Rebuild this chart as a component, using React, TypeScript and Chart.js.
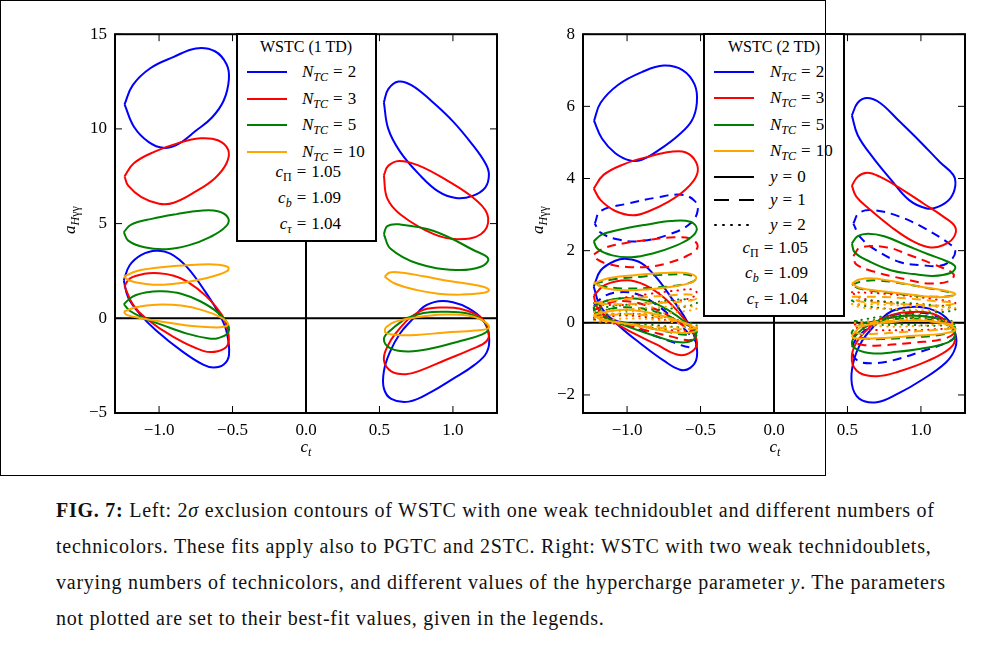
import { useEffect, useRef } from 'react'
import type { CSSProperties, ReactNode } from 'react'
import Chart from 'chart.js/auto'

type Pt = [number, number]

// ---- WSTC (1 TD): contours, c_t < 0
const td1N2NegUp: Pt[] = [[-1.235, 11.3], [-1.18, 12.3], [-1.06, 13.2], [-0.9, 13.8], [-0.75, 14.25], [-0.62, 14.1], [-0.54, 13.4], [-0.525, 12.6], [-0.56, 11.5], [-0.64, 10.6], [-0.75, 9.9], [-0.87, 9.2], [-0.97, 9.0], [-1.07, 9.3], [-1.17, 10.1]]
const td1N3NegUp: Pt[] = [[-1.235, 7.5], [-1.17, 8.2], [-1.03, 8.8], [-0.87, 9.25], [-0.72, 9.5], [-0.6, 9.4], [-0.53, 8.9], [-0.54, 8.2], [-0.62, 7.4], [-0.75, 6.7], [-0.9, 6.1], [-1.0, 6.05], [-1.12, 6.4], [-1.21, 7.0]]
const td1N5NegUp: Pt[] = [[-1.24, 4.55], [-1.19, 4.95], [-1.05, 5.25], [-0.88, 5.5], [-0.72, 5.68], [-0.6, 5.65], [-0.53, 5.3], [-0.545, 4.85], [-0.65, 4.3], [-0.8, 3.85], [-0.95, 3.65], [-1.1, 3.75], [-1.21, 4.1]]
const td1N10NegUp: Pt[] = [[-1.24, 2.2], [-1.15, 2.5], [-0.95, 2.72], [-0.72, 2.84], [-0.6, 2.83], [-0.53, 2.7], [-0.535, 2.5], [-0.62, 2.25], [-0.72, 2.05], [-0.95, 1.78], [-1.1, 1.82], [-1.2, 1.98]]
const td1N2NegLow: Pt[] = [[-1.24, 2.0], [-1.2, 2.8], [-1.12, 3.35], [-1.02, 3.57], [-0.92, 3.4], [-0.81, 2.7], [-0.68, 1.34], [-0.585, 0.14], [-0.54, -0.72], [-0.524, -1.93], [-0.56, -2.44], [-0.63, -2.6], [-0.7, -2.45], [-0.84, -1.76], [-1.02, -0.64], [-1.13, 0.22], [-1.21, 1.1]]
const td1N3NegLow: Pt[] = [[-1.235, 1.7], [-1.2, 2.1], [-1.1, 2.35], [-1.0, 2.38], [-0.9, 2.25], [-0.81, 1.95], [-0.68, 1.17], [-0.57, 0.14], [-0.53, -0.72], [-0.533, -1.41], [-0.6, -1.74], [-0.7, -1.72], [-0.9, -1.0], [-1.09, 0.0], [-1.18, 0.75]]
const td1N5NegLow: Pt[] = [[-1.24, 0.75], [-1.18, 1.15], [-1.08, 1.38], [-0.98, 1.43], [-0.85, 1.3], [-0.72, 0.9], [-0.6, 0.3], [-0.53, -0.35], [-0.535, -0.8], [-0.6, -1.05], [-0.66, -1.07], [-0.81, -0.81], [-0.98, -0.35], [-1.1, 0.0], [-1.2, 0.4]]
const td1N10NegLow: Pt[] = [[-1.24, 0.35], [-1.15, 0.6], [-1.02, 0.72], [-0.85, 0.67], [-0.7, 0.42], [-0.58, 0.05], [-0.53, -0.3], [-0.56, -0.45], [-0.65, -0.47], [-0.81, -0.38], [-1.0, -0.15], [-1.12, 0.0], [-1.22, 0.18]]

// ---- WSTC (1 TD): contours, c_t > 0
const td1N2PosUp: Pt[] = [[0.53, 11.4], [0.56, 12.1], [0.63, 12.5], [0.72, 12.3], [0.85, 11.5], [1.0, 10.4], [1.13, 9.2], [1.22, 8.2], [1.245, 7.6], [1.22, 6.9], [1.13, 6.45], [1.02, 6.35], [0.9, 6.7], [0.77, 7.6], [0.64, 8.8], [0.56, 10.0]]
const td1N3PosUp: Pt[] = [[0.53, 7.55], [0.56, 8.05], [0.633, 8.31], [0.76, 8.09], [0.94, 7.37], [1.17, 6.16], [1.24, 5.3], [1.19, 4.44], [1.03, 4.18], [0.87, 4.44], [0.645, 5.47], [0.553, 6.33]]
const td1N5PosUp: Pt[] = [[0.53, 4.44], [0.553, 4.87], [0.633, 4.96], [0.87, 4.61], [1.146, 3.58], [1.24, 3.15], [1.19, 2.72], [1.02, 2.55], [0.76, 2.89], [0.576, 3.67]]
const td1N10PosUp: Pt[] = [[0.535, 2.2], [0.57, 2.42], [0.66, 2.4], [0.8, 2.22], [0.95, 2.0], [1.1, 1.82], [1.2, 1.68], [1.245, 1.5], [1.2, 1.33], [1.05, 1.25], [0.9, 1.3], [0.75, 1.5], [0.6, 1.85]]
const td1N2PosLow: Pt[] = [[0.73, 0.0], [0.8, 0.6], [0.9, 0.9], [1.0, 0.85], [1.1, 0.55], [1.2, -0.05], [1.245, -0.9], [1.23, -1.8], [1.14, -2.5], [1.0, -3.2], [0.85, -3.9], [0.7, -4.4], [0.58, -4.25], [0.53, -3.7], [0.53, -2.8], [0.57, -1.8], [0.64, -0.8]]
const td1N3PosLow: Pt[] = [[0.7, 0.0], [0.8, 0.45], [0.93, 0.57], [1.05, 0.5], [1.18, 0.1], [1.24, -0.6], [1.23, -1.2], [1.12, -1.65], [0.95, -2.2], [0.78, -2.75], [0.68, -2.95], [0.58, -2.8], [0.53, -2.2], [0.56, -1.4], [0.62, -0.7]]
const td1N5PosLow: Pt[] = [[0.68, 0.0], [0.8, 0.28], [0.94, 0.35], [1.1, 0.25], [1.2, -0.1], [1.24, -0.55], [1.2, -0.85], [1.05, -1.2], [0.85, -1.6], [0.7, -1.75], [0.58, -1.6], [0.53, -1.1], [0.58, -0.6]]
const td1N10PosLow: Pt[] = [[0.54, -0.5], [0.6, -0.2], [0.75, 0.05], [0.94, 0.2], [1.1, 0.15], [1.2, -0.1], [1.245, -0.5], [1.15, -0.65], [0.95, -0.75], [0.75, -0.88], [0.62, -0.88], [0.54, -0.75]]

// ---- WSTC (2 TD), y = 0
const td2Y0N2NegUp: Pt[] = [[-1.225, 5.6], [-1.18, 6.1], [-1.06, 6.6], [-0.9, 6.95], [-0.75, 7.13], [-0.62, 7.0], [-0.54, 6.6], [-0.525, 6.1], [-0.56, 5.6], [-0.65, 5.2], [-0.78, 4.8], [-0.9, 4.52], [-0.98, 4.5], [-1.08, 4.7], [-1.17, 5.1]]
const td2Y0N3NegUp: Pt[] = [[-1.227, 3.72], [-1.16, 4.1], [-1.02, 4.4], [-0.86, 4.6], [-0.7, 4.74], [-0.6, 4.72], [-0.53, 4.45], [-0.525, 4.1], [-0.6, 3.7], [-0.72, 3.35], [-0.86, 3.08], [-0.96, 2.98], [-1.08, 3.1], [-1.18, 3.4]]
const td2Y0N5NegUp: Pt[] = [[-1.227, 2.26], [-1.17, 2.45], [-1.03, 2.6], [-0.87, 2.72], [-0.7, 2.82], [-0.57, 2.8], [-0.525, 2.6], [-0.57, 2.35], [-0.68, 2.12], [-0.82, 1.93], [-0.97, 1.82], [-1.1, 1.87], [-1.2, 2.05]]
const td2Y0N10NegUp: Pt[] = [[-1.227, 1.1], [-1.12, 1.24], [-0.95, 1.32], [-0.75, 1.38], [-0.6, 1.38], [-0.53, 1.27], [-0.56, 1.12], [-0.7, 1.0], [-0.85, 0.93], [-1.0, 0.9], [-1.15, 0.96]]
const td2Y0N2NegLow: Pt[] = [[-1.227, 1.0], [-1.18, 1.45], [-1.08, 1.72], [-1.0, 1.77], [-0.9, 1.65], [-0.8, 1.25], [-0.7, 0.7], [-0.6, 0.1], [-0.54, -0.4], [-0.525, -0.95], [-0.57, -1.25], [-0.64, -1.3], [-0.75, -1.05], [-0.9, -0.6], [-1.05, -0.1], [-1.18, 0.45]]
const td2Y0N3NegLow: Pt[] = [[-1.227, 0.75], [-1.15, 1.05], [-1.0, 1.18], [-0.88, 1.05], [-0.75, 0.7], [-0.63, 0.2], [-0.55, -0.25], [-0.525, -0.6], [-0.58, -0.85], [-0.66, -0.88], [-0.8, -0.6], [-0.95, -0.3], [-1.1, 0.05], [-1.2, 0.4]]
const td2Y0N5NegLow: Pt[] = [[-1.227, 0.45], [-1.15, 0.6], [-1.0, 0.69], [-0.85, 0.6], [-0.72, 0.35], [-0.6, 0.0], [-0.53, -0.3], [-0.56, -0.5], [-0.66, -0.53], [-0.82, -0.35], [-1.0, -0.1], [-1.15, 0.15], [-1.22, 0.3]]
const td2Y0N10NegLow: Pt[] = [[-1.227, 0.22], [-1.12, 0.32], [-1.0, 0.36], [-0.85, 0.28], [-0.7, 0.12], [-0.58, -0.05], [-0.525, -0.2], [-0.6, -0.28], [-0.75, -0.22], [-0.9, -0.1], [-1.05, 0.0], [-1.18, 0.1]]
const td2Y0N2PosUp: Pt[] = [[0.53, 5.75], [0.57, 6.1], [0.634, 6.23], [0.72, 6.1], [0.85, 5.6], [1.0, 5.0], [1.13, 4.45], [1.22, 4.1], [1.234, 3.8], [1.2, 3.45], [1.12, 3.22], [1.04, 3.17], [0.92, 3.4], [0.8, 3.95], [0.67, 4.6], [0.57, 5.2]]
const td2Y0N3PosUp: Pt[] = [[0.53, 3.8], [0.57, 4.05], [0.634, 4.16], [0.72, 4.05], [0.87, 3.7], [1.02, 3.3], [1.15, 2.95], [1.234, 2.65], [1.22, 2.35], [1.15, 2.15], [1.065, 2.09], [0.95, 2.25], [0.8, 2.65], [0.65, 3.15], [0.56, 3.5]]
const td2Y0N5PosUp: Pt[] = [[0.53, 2.2], [0.57, 2.4], [0.64, 2.47], [0.75, 2.4], [0.9, 2.15], [1.05, 1.9], [1.18, 1.7], [1.234, 1.55], [1.2, 1.38], [1.08, 1.3], [0.95, 1.35], [0.8, 1.45], [0.65, 1.7], [0.55, 1.95]]
const td2Y0N10PosUp: Pt[] = [[0.53, 1.09], [0.58, 1.2], [0.68, 1.23], [0.85, 1.12], [1.0, 1.0], [1.15, 0.9], [1.234, 0.8], [1.18, 0.72], [1.06, 0.72], [0.9, 0.8], [0.72, 0.88], [0.58, 0.97]]
const td2Y0N2PosLow: Pt[] = [[0.7, 0.0], [0.8, 0.32], [0.93, 0.44], [1.05, 0.4], [1.17, 0.15], [1.234, -0.3], [1.234, -0.7], [1.17, -1.1], [1.0, -1.6], [0.85, -1.95], [0.7, -2.2], [0.58, -2.1], [0.53, -1.7], [0.54, -1.1], [0.6, -0.5]]
const td2Y0N3PosLow: Pt[] = [[0.68, 0.0], [0.8, 0.22], [0.93, 0.3], [1.08, 0.25], [1.2, -0.05], [1.234, -0.4], [1.2, -0.7], [1.05, -1.05], [0.85, -1.35], [0.7, -1.48], [0.58, -1.38], [0.53, -1.05], [0.56, -0.55]]
const td2Y0N5PosLow: Pt[] = [[0.66, 0.0], [0.8, 0.15], [0.93, 0.2], [1.1, 0.13], [1.2, -0.1], [1.234, -0.35], [1.18, -0.55], [1.0, -0.72], [0.8, -0.82], [0.68, -0.85], [0.57, -0.75], [0.53, -0.55], [0.58, -0.25]]
const td2Y0N10PosLow: Pt[] = [[0.53, -0.35], [0.6, -0.1], [0.75, 0.0], [0.93, 0.06], [1.1, 0.03], [1.2, -0.08], [1.234, -0.2], [1.15, -0.3], [0.95, -0.36], [0.75, -0.42], [0.62, -0.44], [0.54, -0.42]]

// ---- WSTC (2 TD), y = 1
const td2Y1N2NegUp: Pt[] = [[-1.22, 2.75], [-1.18, 3.1], [-1.0, 3.3], [-0.8, 3.47], [-0.63, 3.55], [-0.54, 3.38], [-0.52, 3.1], [-0.57, 2.75], [-0.7, 2.47], [-0.9, 2.27], [-1.05, 2.3], [-1.18, 2.5]]
const td2Y1N3NegUp: Pt[] = [[-1.225, 1.9], [-1.15, 2.08], [-1.0, 2.22], [-0.85, 2.3], [-0.68, 2.37], [-0.56, 2.32], [-0.52, 2.1], [-0.58, 1.88], [-0.72, 1.66], [-0.86, 1.55], [-1.0, 1.55], [-1.12, 1.62], [-1.2, 1.75]]
const td2Y1N5NegUp: Pt[] = [[-1.225, 1.08], [-1.1, 1.2], [-0.9, 1.28], [-0.7, 1.34], [-0.57, 1.32], [-0.53, 1.22], [-0.6, 1.08], [-0.8, 0.98], [-1.0, 0.95], [-1.15, 1.0]]
const td2Y1N10NegUp: Pt[] = [[-1.225, 0.55], [-1.1, 0.62], [-0.9, 0.7], [-0.7, 0.76], [-0.56, 0.78], [-0.525, 0.68], [-0.6, 0.6], [-0.8, 0.55], [-1.0, 0.52], [-1.15, 0.52]]
const td2Y1N2NegLow: Pt[] = [[-1.225, 0.5], [-1.15, 0.75], [-1.05, 0.85], [-0.92, 0.78], [-0.8, 0.5], [-0.68, 0.1], [-0.58, -0.3], [-0.525, -0.6], [-0.57, -0.68], [-0.68, -0.55], [-0.85, -0.3], [-1.0, -0.05], [-1.15, 0.2]]
const td2Y1N3NegLow: Pt[] = [[-1.225, 0.35], [-1.12, 0.55], [-1.0, 0.6], [-0.85, 0.45], [-0.7, 0.15], [-0.58, -0.2], [-0.525, -0.4], [-0.58, -0.48], [-0.7, -0.38], [-0.88, -0.2], [-1.05, 0.0], [-1.18, 0.2]]
const td2Y1N5NegLow: Pt[] = [[-1.225, 0.25], [-1.1, 0.4], [-0.95, 0.42], [-0.8, 0.3], [-0.65, 0.05], [-0.525, -0.25], [-0.6, -0.33], [-0.78, -0.2], [-0.95, -0.05], [-1.12, 0.1]]
const td2Y1N10NegLow: Pt[] = [[-1.225, 0.15], [-1.1, 0.22], [-0.95, 0.24], [-0.78, 0.15], [-0.62, 0.0], [-0.525, -0.12], [-0.6, -0.18], [-0.78, -0.14], [-0.95, -0.05], [-1.12, 0.05]]
const td2Y1N2PosUp: Pt[] = [[0.54, 2.75], [0.58, 3.05], [0.68, 3.12], [0.85, 2.95], [1.02, 2.63], [1.2, 2.17], [1.234, 1.98], [1.2, 1.72], [1.13, 1.58], [1.0, 1.6], [0.86, 1.68], [0.7, 2.0], [0.59, 2.36]]
const td2Y1N3PosUp: Pt[] = [[0.54, 1.85], [0.59, 2.09], [0.77, 2.09], [0.92, 1.88], [1.08, 1.63], [1.22, 1.36], [1.2, 1.17], [1.06, 1.09], [0.88, 1.22], [0.68, 1.42], [0.56, 1.62]]
const td2Y1N5PosUp: Pt[] = [[0.53, 1.05], [0.6, 1.15], [0.72, 1.17], [0.9, 1.07], [1.05, 0.96], [1.2, 0.84], [1.22, 0.76], [1.08, 0.72], [0.9, 0.78], [0.72, 0.86], [0.58, 0.95]]
const td2Y1N10PosUp: Pt[] = [[0.53, 0.72], [0.7, 0.72], [0.9, 0.68], [1.1, 0.6], [1.234, 0.55], [1.15, 0.48], [0.95, 0.5], [0.75, 0.55], [0.58, 0.6]]
const td2Y1N2PosLow: Pt[] = [[0.7, 0.0], [0.8, 0.2], [0.93, 0.28], [1.08, 0.22], [1.2, -0.05], [1.234, -0.3], [1.2, -0.5], [1.0, -0.8], [0.8, -1.05], [0.68, -1.12], [0.57, -1.05], [0.53, -0.75], [0.58, -0.35]]
const td2Y1N3PosLow: Pt[] = [[0.68, 0.0], [0.8, 0.15], [0.93, 0.2], [1.1, 0.13], [1.2, -0.05], [1.234, -0.25], [1.15, -0.45], [0.95, -0.55], [0.75, -0.62], [0.62, -0.62], [0.54, -0.5], [0.57, -0.25]]
const td2Y1N5PosLow: Pt[] = [[0.62, 0.0], [0.8, 0.1], [0.95, 0.12], [1.12, 0.05], [1.234, -0.15], [1.15, -0.32], [0.95, -0.4], [0.75, -0.45], [0.6, -0.42], [0.53, -0.3], [0.56, -0.12]]
const td2Y1N10PosLow: Pt[] = [[0.55, -0.1], [0.7, 0.02], [0.93, 0.06], [1.15, 0.0], [1.234, -0.12], [1.1, -0.2], [0.9, -0.25], [0.7, -0.3], [0.56, -0.28]]

// ---- WSTC (2 TD), y = 2
const td2Y2N3NegUp: Pt[] = [[-1.225, 0.55], [-1.05, 0.68], [-0.85, 0.8], [-0.65, 0.9], [-0.55, 0.92], [-0.525, 0.8], [-0.6, 0.65], [-0.8, 0.55], [-1.0, 0.5], [-1.15, 0.5]]
const td2Y2N5NegUp: Pt[] = [[-1.225, 0.4], [-1.0, 0.5], [-0.8, 0.58], [-0.6, 0.65], [-0.525, 0.55], [-0.65, 0.42], [-0.85, 0.36], [-1.05, 0.34]]
const td2Y2N10NegUp: Pt[] = [[-1.225, 0.3], [-1.0, 0.38], [-0.8, 0.43], [-0.6, 0.47], [-0.525, 0.4], [-0.65, 0.3], [-0.85, 0.25], [-1.05, 0.25]]
const td2Y2N3NegLow: Pt[] = [[-1.225, 0.1], [-1.05, 0.2], [-0.85, 0.15], [-0.68, 0.02], [-0.525, -0.15], [-0.62, -0.22], [-0.82, -0.15], [-1.02, -0.05], [-1.18, 0.03]]
const td2Y2N5NegLow: Pt[] = [[-1.225, 0.15], [-1.05, 0.25], [-0.85, 0.22], [-0.68, 0.1], [-0.525, -0.08], [-0.65, -0.12], [-0.85, -0.05], [-1.05, 0.02]]
const td2Y2N10NegLow: Pt[] = [[-1.225, 0.05], [-1.0, 0.12], [-0.8, 0.08], [-0.6, -0.05], [-0.525, -0.1], [-0.7, -0.12], [-0.95, -0.06]]
const td2Y2N3PosUp: Pt[] = [[0.53, 0.85], [0.7, 0.82], [0.9, 0.75], [1.1, 0.65], [1.234, 0.55], [1.15, 0.47], [0.95, 0.5], [0.75, 0.58], [0.58, 0.7]]
const td2Y2N5PosUp: Pt[] = [[0.53, 0.62], [0.7, 0.6], [0.9, 0.55], [1.1, 0.48], [1.234, 0.38], [1.15, 0.3], [0.95, 0.32], [0.75, 0.4], [0.58, 0.5]]
const td2Y2N10PosUp: Pt[] = [[0.53, 0.52], [0.75, 0.5], [1.0, 0.45], [1.234, 0.42], [1.1, 0.35], [0.85, 0.38], [0.6, 0.42]]
const td2Y2N3PosLow: Pt[] = [[0.55, -0.05], [0.75, 0.12], [0.95, 0.15], [1.15, 0.05], [1.234, -0.1], [1.1, -0.18], [0.9, -0.2], [0.7, -0.2], [0.57, -0.15]]
const td2Y2N5PosLow: Pt[] = [[0.55, 0.05], [0.75, 0.18], [0.95, 0.22], [1.15, 0.12], [1.234, -0.02], [1.1, -0.08], [0.9, -0.05], [0.7, -0.05]]
const td2Y2N10PosLow: Pt[] = [[0.55, 0.0], [0.8, 0.08], [1.0, 0.1], [1.234, 0.0], [1.0, -0.08], [0.75, -0.1]]

// ---- axes
const ctTicks = [-1, -0.5, 0, 0.5, 1]
const td1Ticks = [-5, 0, 5, 10, 15]
const td2Ticks = [-2, 0, 2, 4, 6, 8]

const BLUE = '#0000ff'
const RED = '#ff0000'
const GREEN = '#008000'
const ORANGE = '#ffa500'
const SERIF = '"Liberation Serif", "DejaVu Serif", serif'

const SOLID: number[] = []
const DASHED = [9, 6]
const DOTTED = [0.5, 6]

interface Curve {
  points: Pt[]
  color: string
  dash: number[]
}

const td1Curves: Curve[] = [
  { points: td1N2NegUp, color: BLUE, dash: SOLID },
  { points: td1N2NegLow, color: BLUE, dash: SOLID },
  { points: td1N2PosUp, color: BLUE, dash: SOLID },
  { points: td1N2PosLow, color: BLUE, dash: SOLID },
  { points: td1N3NegUp, color: RED, dash: SOLID },
  { points: td1N3NegLow, color: RED, dash: SOLID },
  { points: td1N3PosUp, color: RED, dash: SOLID },
  { points: td1N3PosLow, color: RED, dash: SOLID },
  { points: td1N5NegUp, color: GREEN, dash: SOLID },
  { points: td1N5NegLow, color: GREEN, dash: SOLID },
  { points: td1N5PosUp, color: GREEN, dash: SOLID },
  { points: td1N5PosLow, color: GREEN, dash: SOLID },
  { points: td1N10NegUp, color: ORANGE, dash: SOLID },
  { points: td1N10NegLow, color: ORANGE, dash: SOLID },
  { points: td1N10PosUp, color: ORANGE, dash: SOLID },
  { points: td1N10PosLow, color: ORANGE, dash: SOLID },
]

const td2Curves: Curve[] = [
  { points: td2Y0N2NegUp, color: BLUE, dash: SOLID },
  { points: td2Y0N2NegLow, color: BLUE, dash: SOLID },
  { points: td2Y0N2PosUp, color: BLUE, dash: SOLID },
  { points: td2Y0N2PosLow, color: BLUE, dash: SOLID },
  { points: td2Y1N2NegUp, color: BLUE, dash: DASHED },
  { points: td2Y1N2NegLow, color: BLUE, dash: DASHED },
  { points: td2Y1N2PosUp, color: BLUE, dash: DASHED },
  { points: td2Y1N2PosLow, color: BLUE, dash: DASHED },
  { points: td2Y0N3NegUp, color: RED, dash: SOLID },
  { points: td2Y0N3NegLow, color: RED, dash: SOLID },
  { points: td2Y0N3PosUp, color: RED, dash: SOLID },
  { points: td2Y0N3PosLow, color: RED, dash: SOLID },
  { points: td2Y1N3NegUp, color: RED, dash: DASHED },
  { points: td2Y1N3NegLow, color: RED, dash: DASHED },
  { points: td2Y1N3PosUp, color: RED, dash: DASHED },
  { points: td2Y1N3PosLow, color: RED, dash: DASHED },
  { points: td2Y2N3NegUp, color: RED, dash: DOTTED },
  { points: td2Y2N3NegLow, color: RED, dash: DOTTED },
  { points: td2Y2N3PosUp, color: RED, dash: DOTTED },
  { points: td2Y2N3PosLow, color: RED, dash: DOTTED },
  { points: td2Y1N5NegUp, color: GREEN, dash: DASHED },
  { points: td2Y1N5PosUp, color: GREEN, dash: DASHED },
  { points: td2Y0N5NegUp, color: GREEN, dash: SOLID },
  { points: td2Y0N5NegLow, color: GREEN, dash: SOLID },
  { points: td2Y0N5PosUp, color: GREEN, dash: SOLID },
  { points: td2Y0N5PosLow, color: GREEN, dash: SOLID },
  { points: td2Y1N5NegLow, color: GREEN, dash: DASHED },
  { points: td2Y1N5PosLow, color: GREEN, dash: DASHED },
  { points: td2Y2N5NegUp, color: GREEN, dash: DOTTED },
  { points: td2Y2N5NegLow, color: GREEN, dash: DOTTED },
  { points: td2Y2N5PosUp, color: GREEN, dash: DOTTED },
  { points: td2Y2N5PosLow, color: GREEN, dash: DOTTED },
  { points: td2Y0N10NegUp, color: ORANGE, dash: SOLID },
  { points: td2Y0N10NegLow, color: ORANGE, dash: SOLID },
  { points: td2Y0N10PosUp, color: ORANGE, dash: SOLID },
  { points: td2Y0N10PosLow, color: ORANGE, dash: SOLID },
  { points: td2Y1N10NegUp, color: ORANGE, dash: DASHED },
  { points: td2Y1N10NegLow, color: ORANGE, dash: DASHED },
  { points: td2Y1N10PosUp, color: ORANGE, dash: DASHED },
  { points: td2Y1N10PosLow, color: ORANGE, dash: DASHED },
  { points: td2Y2N10NegUp, color: ORANGE, dash: DOTTED },
  { points: td2Y2N10NegLow, color: ORANGE, dash: DOTTED },
  { points: td2Y2N10PosUp, color: ORANGE, dash: DOTTED },
  { points: td2Y2N10PosLow, color: ORANGE, dash: DOTTED },
]

function minusSign(text: string) {
  return text.replace('-', '\u2212')
}

// matplotlib-ish frame: thick box, inward ticks on all four sides, axes through 0
const framePlugin = {
  id: 'mplFrame',
  beforeDatasetsDraw(chart: any) {
    const { ctx, chartArea, scales } = chart
    const x0 = scales.x.getPixelForValue(0)
    const y0 = scales.y.getPixelForValue(0)
    ctx.save()
    ctx.strokeStyle = '#000'
    ctx.lineWidth = 2
    ctx.beginPath()
    ctx.moveTo(x0, chartArea.top)
    ctx.lineTo(x0, chartArea.bottom)
    ctx.moveTo(chartArea.left, y0)
    ctx.lineTo(chartArea.right, y0)
    ctx.stroke()
    ctx.restore()
  },
  afterDatasetsDraw(chart: any) {
    const { ctx, chartArea, scales } = chart
    const { left, right, top, bottom } = chartArea
    const len = 7
    ctx.save()
    ctx.strokeStyle = '#000'
    ctx.lineWidth = 1
    ctx.beginPath()
    scales.x.ticks.forEach((t: any) => {
      const px = scales.x.getPixelForValue(t.value)
      ctx.moveTo(px, bottom)
      ctx.lineTo(px, bottom - len)
      ctx.moveTo(px, top)
      ctx.lineTo(px, top + len)
    })
    scales.y.ticks.forEach((t: any) => {
      const py = scales.y.getPixelForValue(t.value)
      ctx.moveTo(left, py)
      ctx.lineTo(left + len, py)
      ctx.moveTo(right, py)
      ctx.lineTo(right - len, py)
    })
    ctx.stroke()
    ctx.lineWidth = 2
    ctx.strokeRect(left, top, right - left, bottom - top)
    ctx.restore()
  },
}

interface PanelProps {
  curves: Curve[]
  yMin: number
  yMax: number
  yTicks: number[]
  style: CSSProperties
}

function ContourPanel({ curves, yMin, yMax, yTicks, style }: PanelProps) {
  const canvasRef = useRef<HTMLCanvasElement | null>(null)

  useEffect(() => {
    if (!canvasRef.current) return undefined

    // first dataset is painted last in Chart.js, so reverse the plotting order
    const datasets = curves
      .map((c) => ({
        data: [...c.points, c.points[0]].map(([x, y]) => ({ x, y })),
        borderColor: c.color,
        borderWidth: 2,
        borderDash: c.dash,
        borderCapStyle: c.dash === DOTTED ? 'round' : 'butt',
        pointRadius: 0,
        showLine: true,
        tension: 0.4,
        fill: false,
      }))
      .reverse()

    const chart = new Chart(canvasRef.current, {
      type: 'scatter',
      data: { datasets: datasets as any },
      options: {
        animation: false,
        responsive: true,
        maintainAspectRatio: false,
        layout: { padding: { top: 10, right: 10, left: 0, bottom: 0 } },
        plugins: {
          legend: { display: false },
          tooltip: { enabled: false },
        },
        scales: {
          x: {
            type: 'linear',
            min: -1.3,
            max: 1.3,
            grid: { display: false, drawTicks: false },
            border: { display: false },
            ticks: {
              padding: 7,
              maxRotation: 0,
              color: '#000',
              font: { family: SERIF, size: 17 },
              callback: (v) => minusSign(Number(v).toFixed(1)),
            },
            afterBuildTicks: (scale) => {
              scale.ticks = ctTicks.map((value) => ({ value }))
            },
            afterFit: (scale) => {
              scale.height = 43
            },
          },
          y: {
            type: 'linear',
            min: yMin,
            max: yMax,
            grid: { display: false, drawTicks: false },
            border: { display: false },
            ticks: {
              padding: 8,
              color: '#000',
              font: { family: SERIF, size: 17 },
              callback: (v) => minusSign(String(v)),
            },
            afterBuildTicks: (scale) => {
              scale.ticks = yTicks.map((value) => ({ value }))
            },
            afterFit: (scale) => {
              scale.width = 55
            },
          },
        },
      },
      plugins: [framePlugin],
    })

    return () => {
      chart.destroy()
    }
  }, [curves, yMin, yMax, yTicks])

  return (
    <div style={{ position: 'absolute', ...style }}>
      <canvas ref={canvasRef} />
    </div>
  )
}

const subStyle: CSSProperties = { fontSize: 12, verticalAlign: '-4px', lineHeight: 0 }
const eqStyle: CSSProperties = { margin: '0 5px' }

function Text({ x, y, children, align = 'left', size = 17 }: { x: number; y: number; children: ReactNode; align?: 'left' | 'right' | 'center'; size?: number }) {
  const pos: CSSProperties =
    align === 'left'
      ? { left: x }
      : align === 'right'
        ? { right: 1000 - x }
        : { left: x, transform: 'translateX(-50%)' }
  return (
    <div style={{ position: 'absolute', top: y - 10, height: 20, lineHeight: '20px', fontSize: size, whiteSpace: 'nowrap', ...pos }}>
      {children}
    </div>
  )
}

function Sample({ x, y, color, dash }: { x: number; y: number; color: string; dash: string }) {
  return (
    <svg style={{ position: 'absolute', left: x, top: y - 3 }} width={40} height={6}>
      <line x1={dash === '1 7' ? 1 : 0} y1={3} x2={40} y2={3} stroke={color} strokeWidth={2} strokeDasharray={dash} strokeLinecap={dash === '1 7' ? 'round' : 'butt'} />
    </svg>
  )
}

const Eq = () => <span style={eqStyle}>=</span>

const Ntc = ({ n }: { n: number }) => (
  <>
    <i>N</i>
    <sub style={subStyle}><i>TC</i></sub>
    <Eq />
    {n}
  </>
)

const boxStyle: CSSProperties = {
  position: 'absolute',
  border: '2px solid #000',
  background: '#fff',
  boxSizing: 'border-box',
}

const legendColors = [BLUE, RED, GREEN, ORANGE]
const legendN = [2, 3, 5, 10]

function AxisTitles({ cx, cy, tx, ty }: { cx: number; cy: number; tx: number; ty: number }) {
  return (
    <>
      <div style={{ position: 'absolute', left: cx - 40, top: cy - 10, width: 80, height: 20, lineHeight: '20px', textAlign: 'center', fontSize: 17, transform: 'rotate(-90deg)' }}>
        <i>a</i>
        <sub style={subStyle}><i>H</i>γγ</sub>
      </div>
      <div style={{ position: 'absolute', left: tx - 20, top: ty - 10, width: 40, height: 20, lineHeight: '20px', textAlign: 'center', fontSize: 17 }}>
        <i>c</i>
        <sub style={subStyle}><i>t</i></sub>
      </div>
    </>
  )
}

export default function App() {
  return (
    <div style={{ position: 'absolute', left: 0, top: 0, width: 1000, height: 650, background: '#fff', fontFamily: SERIF, color: '#000', overflow: 'hidden' }}>
      <ContourPanel curves={td1Curves} yMin={-5} yMax={15} yTicks={td1Ticks} style={{ left: 60, top: 16, width: 447, height: 440 }} />
      <ContourPanel curves={td2Curves} yMin={-2.5} yMax={8} yTicks={td2Ticks} style={{ left: 528, top: 16, width: 447, height: 440 }} />

      <AxisTitles cx={70} cy={220} tx={306} ty={447} />
      <AxisTitles cx={538} cy={220} tx={775} ty={447} />

      {/* legend, left panel */}
      <div style={{ ...boxStyle, left: 236, top: 33, width: 141, height: 209 }} />
      <Text x={306} y={47} align="center" size={16}>WSTC (1 TD)</Text>
      {legendN.map((n, i) => (
        <div key={n}>
          <Sample x={247} y={72 + i * 26.7} color={legendColors[i]} dash="" />
          <Text x={302} y={72 + i * 26.7}><Ntc n={n} /></Text>
        </div>
      ))}
      <Text x={341} y={172} align="right"><i>c</i><sub style={subStyle}>Π</sub><Eq />1.05</Text>
      <Text x={341} y={198} align="right"><i>c</i><sub style={subStyle}><i>b</i></sub><Eq />1.09</Text>
      <Text x={341} y={224} align="right"><i>c</i><sub style={subStyle}><i>τ</i></sub><Eq />1.04</Text>

      {/* legend, right panel */}
      <div style={{ ...boxStyle, left: 703, top: 33, width: 142, height: 284 }} />
      <Text x={774} y={47} align="center" size={16}>WSTC (2 TD)</Text>
      {legendN.map((n, i) => (
        <div key={n}>
          <Sample x={714} y={72 + i * 26.4} color={legendColors[i]} dash="" />
          <Text x={770} y={72 + i * 26.4}><Ntc n={n} /></Text>
        </div>
      ))}
      <Sample x={714} y={177} color="#000" dash="" />
      <Text x={770} y={177}><i>y</i><Eq />0</Text>
      <Sample x={714} y={200} color="#000" dash="15 10" />
      <Text x={770} y={200}><i>y</i><Eq />1</Text>
      <Sample x={714} y={225} color="#000" dash="1 7" />
      <Text x={770} y={225}><i>y</i><Eq />2</Text>
      <Text x={808} y={248} align="right"><i>c</i><sub style={subStyle}>Π</sub><Eq />1.05</Text>
      <Text x={808} y={273} align="right"><i>c</i><sub style={subStyle}><i>b</i></sub><Eq />1.09</Text>
      <Text x={808} y={299} align="right"><i>c</i><sub style={subStyle}><i>τ</i></sub><Eq />1.04</Text>

      {/* outer frame of the figure */}
      <div style={{ position: 'absolute', left: 0, top: 0, width: 826, height: 476, border: '1px solid #000', boxSizing: 'border-box', pointerEvents: 'none' }} />

      {/* caption */}
      <div style={{ position: 'absolute', left: 56, top: 492, fontSize: 20, lineHeight: '36px', letterSpacing: '0.75px', whiteSpace: 'nowrap', color: '#111' }}>
        <div><b>FIG. 7:</b> Left: 2<i>σ</i> exclusion contours of WSTC with one weak technidoublet and different numbers of</div>
        <div>technicolors. These fits apply also to PGTC and 2STC. Right: WSTC with two weak technidoublets,</div>
        <div>varying numbers of technicolors, and different values of the hypercharge parameter <i>y</i>. The parameters</div>
        <div>not plotted are set to their best-fit values, given in the legends.</div>
      </div>
    </div>
  )
}
